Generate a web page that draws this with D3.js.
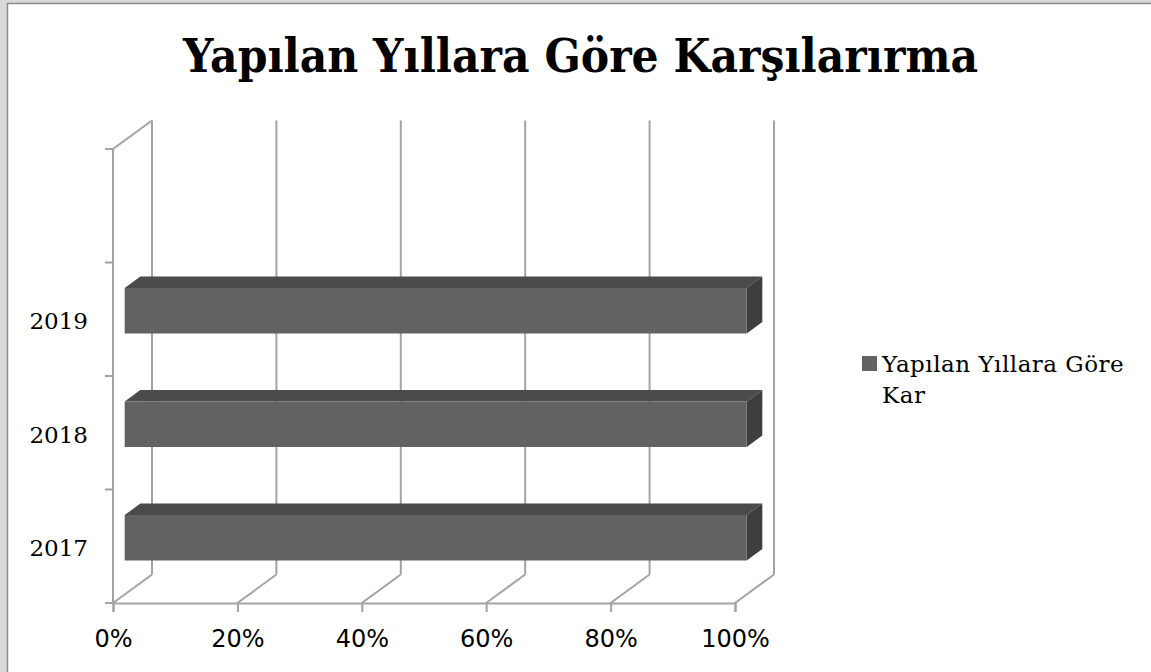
<!DOCTYPE html>
<html>
<head>
<meta charset="utf-8">
<script src="https://cdn.jsdelivr.net/npm/d3@7"></script>
<style>
  body { margin: 0; background: #d9d9d9; }
  svg { display: block; }
</style>
</head>
<body>
<div id="chart"></div>
<script>
// chart data
var categories = ["2017", "2018", "2019", ""];   // 4th slot is empty in the original
var karShare = [100, 100, 100];                  // 100% stacked, one series
var xTicks = [0, 20, 40, 60, 80, 100];
var seriesName = ["Yapılan Yıllara Göre", "Kar"];
var title = "Yapılan Yıllara Göre Karşılarırma";

var width = 1151, height = 672;
// 3d depth offset of the back wall
var depth = { dx: 39, dy: -28.5 };
// bar sits between 30% and 70% of the depth
var barFront = 0.3, barBack = 0.7;

var colors = { grid: "#a3a3a3", front: "#626262", top: "#4b4b4b", side: "#3e3e3e" };

var svg = d3.select("#chart").append("svg")
    .attr("width", width)
    .attr("height", height);

// chart area with border
svg.append("rect")
    .attr("x", 7.5).attr("y", 3.5)
    .attr("width", width).attr("height", height)
    .attr("fill", "#fff")
    .attr("stroke", "#8c8c8c")
    .attr("stroke-width", 1.5);

const xscale = d3.scaleLinear().domain([0, 100]).range([113, 735]);
const yscale = d3.scaleBand().domain(categories).range([603, 149]).paddingInner(0);

const g = svg.append("g");

// back wall grid lines
g.selectAll("line.back")
    .data(xTicks)
    .join("line")
    .attr("class", "back")
    .attr("x1", d => xscale(d) + depth.dx)
    .attr("x2", d => xscale(d) + depth.dx)
    .attr("y1", 603 + depth.dy)
    .attr("y2", 149 + depth.dy)
    .attr("stroke", colors.grid).attr("stroke-width", 2);

// floor diagonals
g.selectAll("line.floor")
    .data(xTicks)
    .join("line")
    .attr("class", "floor")
    .attr("x1", d => xscale(d))
    .attr("x2", d => xscale(d) + depth.dx)
    .attr("y1", 603)
    .attr("y2", 603 + depth.dy)
    .attr("stroke", colors.grid).attr("stroke-width", 2);

// left wall top diagonal
g.append("line")
    .attr("x1", xscale(0)).attr("y1", 149)
    .attr("x2", xscale(0) + depth.dx).attr("y2", 149 + depth.dy)
    .attr("stroke", colors.grid).attr("stroke-width", 2);

// x axis (front floor edge)
const xaxis = d3.axisBottom(xscale)
    .tickValues(xTicks)
    .tickFormat(d => d + "%")
    .tickSize(9)
    .tickPadding(18);
const g_xaxis = g.append("g")
    .attr("transform", "translate(0,603)")
    .call(xaxis);
g_xaxis.select(".domain").attr("stroke", colors.grid).attr("stroke-width", 2);
g_xaxis.selectAll(".tick line").attr("stroke", colors.grid).attr("stroke-width", 2);
g_xaxis.selectAll(".tick text")
    .attr("font-family", "DejaVu Sans")
    .attr("font-size", 24)
    .attr("fill", "#000");

// y axis (front left edge), ticks at band boundaries
const yBounds = [603].concat(categories.map(c => yscale(c)));
g.append("line")
    .attr("x1", xscale(0)).attr("x2", xscale(0))
    .attr("y1", 603).attr("y2", 149)
    .attr("stroke", colors.grid).attr("stroke-width", 2);
g.selectAll("line.ytick")
    .data(yBounds)
    .join("line")
    .attr("class", "ytick")
    .attr("x1", xscale(0) - 8).attr("x2", xscale(0))
    .attr("y1", d => d).attr("y2", d => d)
    .attr("stroke", colors.grid).attr("stroke-width", 2);

g.selectAll("text.ylab")
    .data(categories)
    .join("text")
    .attr("class", "ylab")
    .attr("x", 88)
    .attr("y", d => yscale(d) + yscale.bandwidth() / 2 + 10)
    .attr("text-anchor", "end")
    .attr("font-family", "DejaVu Serif")
    .attr("font-size", 23)
    .text(d => d);

// 3d bars
const barH = yscale.bandwidth() * 0.4;
const bars = categories.slice(0, karShare.length).map((c, i) => ({ cat: c, value: karShare[i] }));

const bar = g.selectAll("g.bar")
    .data(bars)
    .join("g")
    .attr("class", "bar");

function pt(x, y, f) { return [x + depth.dx * f, y + depth.dy * f]; }

bar.each(function(d) {
  const sel = d3.select(this);
  const x0 = xscale(0), x1 = xscale(d.value);
  const yc = yscale(d.cat) + yscale.bandwidth() / 2;
  const yt = yc - barH / 2, yb = yc + barH / 2;
  const line = d3.line();
  // top face
  sel.append("path")
      .attr("d", line([pt(x0, yt, barFront), pt(x1, yt, barFront), pt(x1, yt, barBack), pt(x0, yt, barBack)]) + "Z")
      .attr("fill", colors.top);
  // right side face
  sel.append("path")
      .attr("d", line([pt(x1, yt, barFront), pt(x1, yt, barBack), pt(x1, yb, barBack), pt(x1, yb, barFront)]) + "Z")
      .attr("fill", colors.side);
  // front face
  sel.append("path")
      .attr("d", line([pt(x0, yt, barFront), pt(x1, yt, barFront), pt(x1, yb, barFront), pt(x0, yb, barFront)]) + "Z")
      .attr("fill", colors.front);
});

// title
svg.append("text")
    .attr("x", 580.5).attr("y", 72)
    .attr("text-anchor", "middle")
    .attr("font-family", "DejaVu Serif")
    .attr("font-weight", "bold")
    .attr("font-size", 46)
    .attr("textLength", 795)
    .attr("lengthAdjust", "spacingAndGlyphs")
    .text(title);

// legend
const legend = svg.append("g").attr("transform", "translate(862,356)");
legend.append("rect")
    .attr("width", 15).attr("height", 15)
    .attr("fill", colors.front);
legend.selectAll("text")
    .data(seriesName)
    .join("text")
    .attr("x", 20)
    .attr("y", (d, i) => 16 + i * 31)
    .attr("font-family", "DejaVu Serif")
    .attr("font-size", 23)
    .attr("letter-spacing", 0.5)
    .text(d => d);
</script>
</body>
</html>
